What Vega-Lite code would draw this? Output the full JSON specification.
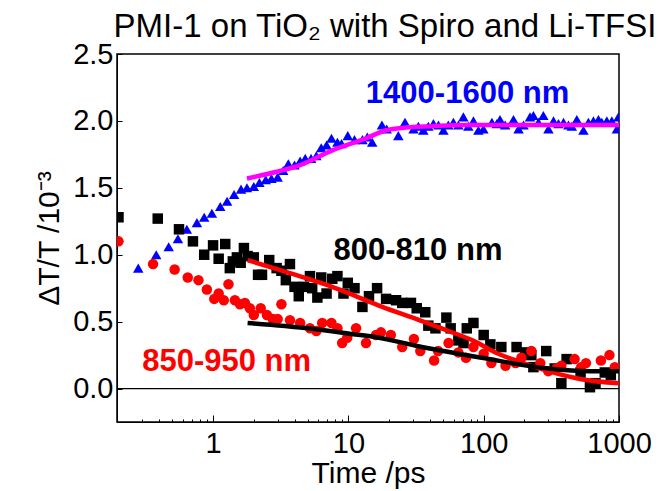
{
  "$schema": "https://vega.github.io/schema/vega-lite/v6.json",
  "autosize": {"type": "none"},
  "padding": {"left": 117, "top": 54, "right": 39, "bottom": 69},
  "width": 502,
  "height": 368,
  "background": "white",
  "config": {
    "view": {"stroke": "black", "strokeWidth": 1.5},
    "font": "Liberation Sans",
    "axis": {"grid": false, "domainColor": "black", "tickColor": "black", "labelColor": "black", "titleColor": "black", "labelFont": "Liberation Sans", "titleFont": "Liberation Sans", "titleFontWeight": "normal", "labelFontSize": 29, "titleFontSize": 30}
  },
  "title": {"text": "PMI-1 on TiO₂ with Spiro and Li-TFSI", "fontSize": 33, "fontWeight": "normal", "font": "Liberation Sans", "color": "black", "anchor": "middle", "dx": 17, "offset": -4},
  "datasets": {
    "pts": [
      {"t": 0.28, "v": 0.90, "series": "1400-1600 nm"},
      {"t": 0.38, "v": 1.00, "series": "1400-1600 nm"},
      {"t": 0.47, "v": 1.06, "series": "1400-1600 nm"},
      {"t": 0.55, "v": 1.12, "series": "1400-1600 nm"},
      {"t": 0.64, "v": 1.19, "series": "1400-1600 nm"},
      {"t": 0.76, "v": 1.24, "series": "1400-1600 nm"},
      {"t": 0.86, "v": 1.28, "series": "1400-1600 nm"},
      {"t": 0.98, "v": 1.31, "series": "1400-1600 nm"},
      {"t": 1.13, "v": 1.36, "series": "1400-1600 nm"},
      {"t": 1.27, "v": 1.40, "series": "1400-1600 nm"},
      {"t": 1.43, "v": 1.45, "series": "1400-1600 nm"},
      {"t": 1.61, "v": 1.49, "series": "1400-1600 nm"},
      {"t": 1.78, "v": 1.50, "series": "1400-1600 nm"},
      {"t": 2.0, "v": 1.51, "series": "1400-1600 nm"},
      {"t": 2.2, "v": 1.54, "series": "1400-1600 nm"},
      {"t": 2.45, "v": 1.56, "series": "1400-1600 nm"},
      {"t": 2.7, "v": 1.57, "series": "1400-1600 nm"},
      {"t": 3.0, "v": 1.58, "series": "1400-1600 nm"},
      {"t": 3.3, "v": 1.63, "series": "1400-1600 nm"},
      {"t": 3.6, "v": 1.68, "series": "1400-1600 nm"},
      {"t": 4.0, "v": 1.67, "series": "1400-1600 nm"},
      {"t": 4.4, "v": 1.70, "series": "1400-1600 nm"},
      {"t": 4.8, "v": 1.72, "series": "1400-1600 nm"},
      {"t": 5.3, "v": 1.72, "series": "1400-1600 nm"},
      {"t": 5.8, "v": 1.74, "series": "1400-1600 nm"},
      {"t": 6.3, "v": 1.80, "series": "1400-1600 nm"},
      {"t": 6.9, "v": 1.82, "series": "1400-1600 nm"},
      {"t": 7.5, "v": 1.87, "series": "1400-1600 nm"},
      {"t": 8.3, "v": 1.84, "series": "1400-1600 nm"},
      {"t": 8.9, "v": 1.83, "series": "1400-1600 nm"},
      {"t": 9.9, "v": 1.89, "series": "1400-1600 nm"},
      {"t": 11.1, "v": 1.86, "series": "1400-1600 nm"},
      {"t": 12.7, "v": 1.86, "series": "1400-1600 nm"},
      {"t": 13.8, "v": 1.88, "series": "1400-1600 nm"},
      {"t": 15.0, "v": 1.84, "series": "1400-1600 nm"},
      {"t": 17.7, "v": 1.97, "series": "1400-1600 nm"},
      {"t": 19.2, "v": 1.94, "series": "1400-1600 nm"},
      {"t": 23.4, "v": 1.89, "series": "1400-1600 nm"},
      {"t": 26.2, "v": 1.99, "series": "1400-1600 nm"},
      {"t": 30.3, "v": 1.94, "series": "1400-1600 nm"},
      {"t": 32.9, "v": 1.96, "series": "1400-1600 nm"},
      {"t": 35.8, "v": 1.93, "series": "1400-1600 nm"},
      {"t": 39, "v": 1.96, "series": "1400-1600 nm"},
      {"t": 42.5, "v": 1.98, "series": "1400-1600 nm"},
      {"t": 46.3, "v": 1.97, "series": "1400-1600 nm"},
      {"t": 50.4, "v": 1.93, "series": "1400-1600 nm"},
      {"t": 54.8, "v": 1.97, "series": "1400-1600 nm"},
      {"t": 59.7, "v": 1.99, "series": "1400-1600 nm"},
      {"t": 65, "v": 1.97, "series": "1400-1600 nm"},
      {"t": 70.8, "v": 2.03, "series": "1400-1600 nm"},
      {"t": 77, "v": 1.96, "series": "1400-1600 nm"},
      {"t": 84, "v": 2.00, "series": "1400-1600 nm"},
      {"t": 91.4, "v": 1.93, "series": "1400-1600 nm"},
      {"t": 99.5, "v": 1.94, "series": "1400-1600 nm"},
      {"t": 115, "v": 1.99, "series": "1400-1600 nm"},
      {"t": 125, "v": 1.98, "series": "1400-1600 nm"},
      {"t": 132, "v": 2.01, "series": "1400-1600 nm"},
      {"t": 144, "v": 1.97, "series": "1400-1600 nm"},
      {"t": 166, "v": 2.01, "series": "1400-1600 nm"},
      {"t": 181, "v": 1.94, "series": "1400-1600 nm"},
      {"t": 197, "v": 1.97, "series": "1400-1600 nm"},
      {"t": 220, "v": 2.03, "series": "1400-1600 nm"},
      {"t": 233, "v": 2.04, "series": "1400-1600 nm"},
      {"t": 254, "v": 1.99, "series": "1400-1600 nm"},
      {"t": 276, "v": 2.04, "series": "1400-1600 nm"},
      {"t": 301, "v": 1.94, "series": "1400-1600 nm"},
      {"t": 328, "v": 2.00, "series": "1400-1600 nm"},
      {"t": 357, "v": 1.98, "series": "1400-1600 nm"},
      {"t": 389, "v": 1.99, "series": "1400-1600 nm"},
      {"t": 423, "v": 1.97, "series": "1400-1600 nm"},
      {"t": 448, "v": 1.96, "series": "1400-1600 nm"},
      {"t": 488, "v": 2.01, "series": "1400-1600 nm"},
      {"t": 546, "v": 1.93, "series": "1400-1600 nm"},
      {"t": 594, "v": 1.99, "series": "1400-1600 nm"},
      {"t": 647, "v": 2.00, "series": "1400-1600 nm"},
      {"t": 705, "v": 2.01, "series": "1400-1600 nm"},
      {"t": 746, "v": 1.99, "series": "1400-1600 nm"},
      {"t": 813, "v": 2.00, "series": "1400-1600 nm"},
      {"t": 885, "v": 2.00, "series": "1400-1600 nm"},
      {"t": 964, "v": 1.94, "series": "1400-1600 nm"},
      {"t": 990, "v": 2.03, "series": "1400-1600 nm"},

      {"t": 0.2, "v": 1.28, "series": "800-810 nm"},
      {"t": 0.39, "v": 1.27, "series": "800-810 nm"},
      {"t": 0.56, "v": 1.19, "series": "800-810 nm"},
      {"t": 0.71, "v": 1.10, "series": "800-810 nm"},
      {"t": 0.86, "v": 1.00, "series": "800-810 nm"},
      {"t": 1.0, "v": 1.07, "series": "800-810 nm"},
      {"t": 1.1, "v": 0.97, "series": "800-810 nm"},
      {"t": 1.23, "v": 1.08, "series": "800-810 nm"},
      {"t": 1.33, "v": 0.90, "series": "800-810 nm"},
      {"t": 1.40, "v": 0.95, "series": "800-810 nm"},
      {"t": 1.5, "v": 0.98, "series": "800-810 nm"},
      {"t": 1.6, "v": 0.94, "series": "800-810 nm"},
      {"t": 1.69, "v": 1.05, "series": "800-810 nm"},
      {"t": 1.8, "v": 0.99, "series": "800-810 nm"},
      {"t": 2.0, "v": 0.98, "series": "800-810 nm"},
      {"t": 2.15, "v": 0.85, "series": "800-810 nm"},
      {"t": 2.3, "v": 0.85, "series": "800-810 nm"},
      {"t": 2.6, "v": 0.96, "series": "800-810 nm"},
      {"t": 2.95, "v": 0.90, "series": "800-810 nm"},
      {"t": 3.2, "v": 0.88, "series": "800-810 nm"},
      {"t": 3.45, "v": 0.81, "series": "800-810 nm"},
      {"t": 3.7, "v": 0.93, "series": "800-810 nm"},
      {"t": 4.0, "v": 0.76, "series": "800-810 nm"},
      {"t": 4.3, "v": 0.69, "series": "800-810 nm"},
      {"t": 4.7, "v": 0.76, "series": "800-810 nm"},
      {"t": 5.2, "v": 0.84, "series": "800-810 nm"},
      {"t": 5.4, "v": 0.75, "series": "800-810 nm"},
      {"t": 5.9, "v": 0.68, "series": "800-810 nm"},
      {"t": 6.3, "v": 0.83, "series": "800-810 nm"},
      {"t": 6.9, "v": 0.71, "series": "800-810 nm"},
      {"t": 7.6, "v": 0.82, "series": "800-810 nm"},
      {"t": 8.3, "v": 0.84, "series": "800-810 nm"},
      {"t": 9.2, "v": 0.71, "series": "800-810 nm"},
      {"t": 9.9, "v": 0.79, "series": "800-810 nm"},
      {"t": 11.1, "v": 0.75, "series": "800-810 nm"},
      {"t": 12.7, "v": 0.61, "series": "800-810 nm"},
      {"t": 14.2, "v": 0.69, "series": "800-810 nm"},
      {"t": 16.3, "v": 0.75, "series": "800-810 nm"},
      {"t": 19, "v": 0.67, "series": "800-810 nm"},
      {"t": 22.5, "v": 0.66, "series": "800-810 nm"},
      {"t": 25, "v": 0.64, "series": "800-810 nm"},
      {"t": 29, "v": 0.64, "series": "800-810 nm"},
      {"t": 32, "v": 0.60, "series": "800-810 nm"},
      {"t": 37, "v": 0.57, "series": "800-810 nm"},
      {"t": 39, "v": 0.47, "series": "800-810 nm"},
      {"t": 44, "v": 0.45, "series": "800-810 nm"},
      {"t": 53, "v": 0.53, "series": "800-810 nm"},
      {"t": 57, "v": 0.45, "series": "800-810 nm"},
      {"t": 65, "v": 0.36, "series": "800-810 nm"},
      {"t": 71, "v": 0.34, "series": "800-810 nm"},
      {"t": 75, "v": 0.45, "series": "800-810 nm"},
      {"t": 84, "v": 0.49, "series": "800-810 nm"},
      {"t": 100, "v": 0.40, "series": "800-810 nm"},
      {"t": 112, "v": 0.33, "series": "800-810 nm"},
      {"t": 135, "v": 0.31, "series": "800-810 nm"},
      {"t": 175, "v": 0.31, "series": "800-810 nm"},
      {"t": 203, "v": 0.27, "series": "800-810 nm"},
      {"t": 225, "v": 0.25, "series": "800-810 nm"},
      {"t": 233, "v": 0.16, "series": "800-810 nm"},
      {"t": 290, "v": 0.28, "series": "800-810 nm"},
      {"t": 335, "v": 0.15, "series": "800-810 nm"},
      {"t": 375, "v": 0.04, "series": "800-810 nm"},
      {"t": 410, "v": 0.22, "series": "800-810 nm"},
      {"t": 520, "v": 0.12, "series": "800-810 nm"},
      {"t": 610, "v": 0.01, "series": "800-810 nm"},
      {"t": 670, "v": 0.04, "series": "800-810 nm"},
      {"t": 785, "v": 0.12, "series": "800-810 nm"},
      {"t": 870, "v": 0.10, "series": "800-810 nm"},

      {"t": 0.2, "v": 1.10, "series": "850-950 nm"},
      {"t": 0.36, "v": 0.93, "series": "850-950 nm"},
      {"t": 0.52, "v": 0.89, "series": "850-950 nm"},
      {"t": 0.65, "v": 0.83, "series": "850-950 nm"},
      {"t": 0.78, "v": 0.81, "series": "850-950 nm"},
      {"t": 0.90, "v": 0.74, "series": "850-950 nm"},
      {"t": 1.02, "v": 0.67, "series": "850-950 nm"},
      {"t": 1.1, "v": 0.71, "series": "850-950 nm"},
      {"t": 1.2, "v": 0.66, "series": "850-950 nm"},
      {"t": 1.3, "v": 0.78, "series": "850-950 nm"},
      {"t": 1.45, "v": 0.66, "series": "850-950 nm"},
      {"t": 1.58, "v": 0.63, "series": "850-950 nm"},
      {"t": 1.72, "v": 0.64, "series": "850-950 nm"},
      {"t": 1.87, "v": 0.60, "series": "850-950 nm"},
      {"t": 2.0, "v": 0.55, "series": "850-950 nm"},
      {"t": 2.25, "v": 0.60, "series": "850-950 nm"},
      {"t": 2.5, "v": 0.55, "series": "850-950 nm"},
      {"t": 2.76, "v": 0.52, "series": "850-950 nm"},
      {"t": 3.0, "v": 0.52, "series": "850-950 nm"},
      {"t": 3.2, "v": 0.63, "series": "850-950 nm"},
      {"t": 3.7, "v": 0.51, "series": "850-950 nm"},
      {"t": 4.4, "v": 0.49, "series": "850-950 nm"},
      {"t": 5.2, "v": 0.45, "series": "850-950 nm"},
      {"t": 5.8, "v": 0.43, "series": "850-950 nm"},
      {"t": 6.4, "v": 0.49, "series": "850-950 nm"},
      {"t": 7.5, "v": 0.49, "series": "850-950 nm"},
      {"t": 8.3, "v": 0.45, "series": "850-950 nm"},
      {"t": 9.0, "v": 0.34, "series": "850-950 nm"},
      {"t": 9.8, "v": 0.38, "series": "850-950 nm"},
      {"t": 11.4, "v": 0.45, "series": "850-950 nm"},
      {"t": 13.5, "v": 0.34, "series": "850-950 nm"},
      {"t": 16, "v": 0.40, "series": "850-950 nm"},
      {"t": 17.4, "v": 0.42, "series": "850-950 nm"},
      {"t": 20.6, "v": 0.40, "series": "850-950 nm"},
      {"t": 25, "v": 0.31, "series": "850-950 nm"},
      {"t": 30.5, "v": 0.37, "series": "850-950 nm"},
      {"t": 34, "v": 0.28, "series": "850-950 nm"},
      {"t": 43, "v": 0.21, "series": "850-950 nm"},
      {"t": 46, "v": 0.28, "series": "850-950 nm"},
      {"t": 55, "v": 0.34, "series": "850-950 nm"},
      {"t": 65, "v": 0.27, "series": "850-950 nm"},
      {"t": 74, "v": 0.23, "series": "850-950 nm"},
      {"t": 84, "v": 0.31, "series": "850-950 nm"},
      {"t": 100, "v": 0.26, "series": "850-950 nm"},
      {"t": 114, "v": 0.19, "series": "850-950 nm"},
      {"t": 145, "v": 0.17, "series": "850-950 nm"},
      {"t": 172, "v": 0.19, "series": "850-950 nm"},
      {"t": 190, "v": 0.23, "series": "850-950 nm"},
      {"t": 225, "v": 0.28, "series": "850-950 nm"},
      {"t": 262, "v": 0.19, "series": "850-950 nm"},
      {"t": 300, "v": 0.13, "series": "850-950 nm"},
      {"t": 345, "v": 0.15, "series": "850-950 nm"},
      {"t": 375, "v": 0.17, "series": "850-950 nm"},
      {"t": 470, "v": 0.22, "series": "850-950 nm"},
      {"t": 525, "v": 0.16, "series": "850-950 nm"},
      {"t": 570, "v": 0.19, "series": "850-950 nm"},
      {"t": 735, "v": 0.21, "series": "850-950 nm"},
      {"t": 850, "v": 0.25, "series": "850-950 nm"},
      {"t": 930, "v": 0.16, "series": "850-950 nm"}
    ],
    "fits": [
      {"t": 1.78, "v": 1.57, "fit": "fit 1400-1600"},
      {"t": 2.95, "v": 1.62, "fit": "fit 1400-1600"},
      {"t": 4.4, "v": 1.67, "fit": "fit 1400-1600"},
      {"t": 7.6, "v": 1.78, "fit": "fit 1400-1600"},
      {"t": 13.5, "v": 1.87, "fit": "fit 1400-1600"},
      {"t": 19, "v": 1.93, "fit": "fit 1400-1600"},
      {"t": 26.6, "v": 1.95, "fit": "fit 1400-1600"},
      {"t": 41, "v": 1.96, "fit": "fit 1400-1600"},
      {"t": 74, "v": 1.97, "fit": "fit 1400-1600"},
      {"t": 200, "v": 1.97, "fit": "fit 1400-1600"},
      {"t": 1000, "v": 1.97, "fit": "fit 1400-1600"},

      {"t": 1.8, "v": 0.96, "fit": "fit 800-810"},
      {"t": 3.5, "v": 0.87, "fit": "fit 800-810"},
      {"t": 7.6, "v": 0.76, "fit": "fit 800-810"},
      {"t": 10.2, "v": 0.71, "fit": "fit 800-810"},
      {"t": 17.8, "v": 0.61, "fit": "fit 800-810"},
      {"t": 31.6, "v": 0.52, "fit": "fit 800-810"},
      {"t": 55, "v": 0.43, "fit": "fit 800-810"},
      {"t": 87, "v": 0.35, "fit": "fit 800-810"},
      {"t": 122, "v": 0.27, "fit": "fit 800-810"},
      {"t": 172, "v": 0.21, "fit": "fit 800-810"},
      {"t": 300, "v": 0.13, "fit": "fit 800-810"},
      {"t": 525, "v": 0.07, "fit": "fit 800-810"},
      {"t": 1000, "v": 0.04, "fit": "fit 800-810"},

      {"t": 1.8, "v": 0.49, "fit": "fit 850-950"},
      {"t": 5, "v": 0.45, "fit": "fit 850-950"},
      {"t": 10.2, "v": 0.41, "fit": "fit 850-950"},
      {"t": 16.8, "v": 0.38, "fit": "fit 850-950"},
      {"t": 31.6, "v": 0.32, "fit": "fit 850-950"},
      {"t": 97, "v": 0.23, "fit": "fit 850-950"},
      {"t": 300, "v": 0.15, "fit": "fit 850-950"},
      {"t": 600, "v": 0.13, "fit": "fit 850-950"},
      {"t": 1000, "v": 0.13, "fit": "fit 850-950"}
    ],
    "labels": [
      {"t": 76, "v": 2.20, "series": "1400-1600 nm"},
      {"t": 32.7, "v": 1.03, "series": "800-810 nm"},
      {"t": 1.26, "v": 0.195, "series": "850-950 nm"}
    ]
  },
  "layer": [
    {
      "data": {"values": [{"v": 0}]},
      "mark": {"type": "rule", "color": "black", "strokeWidth": 1.2},
      "encoding": {"y": {"field": "v", "type": "quantitative"}}
    },
    {
      "data": {"name": "pts"},
      "mark": {"type": "point", "filled": true, "opacity": 1, "size": 110, "clip": true},
      "encoding": {
        "x": {
          "field": "t", "type": "quantitative",
          "scale": {"type": "log", "domain": [0.195, 1000], "nice": false},
          "axis": {
            "title": "Time /ps",
            "values": [0.3, 0.4, 0.5, 0.6, 0.7, 0.8, 0.9, 1, 2, 3, 4, 5, 6, 7, 8, 9, 10, 20, 30, 40, 50, 60, 70, 80, 90, 100, 200, 300, 400, 500, 600, 700, 800, 900, 1000],
            "labelExpr": "indexof([1,10,100,1000], datum.value) >= 0 ? format(datum.value, 'd') : ''",
            "tickSize": {"condition": {"test": "indexof([1,10,100,1000], datum.value) >= 0", "value": -7}, "value": -3},
            "labelPadding": 14,
            "titlePadding": 0,
            "labelFlush": false
          }
        },
        "y": {
          "field": "v", "type": "quantitative",
          "scale": {"domain": [-0.25, 2.5], "nice": false, "zero": false},
          "axis": {
            "title": "ΔT/T /10⁻³",
            "values": [0, 0.25, 0.5, 0.75, 1, 1.25, 1.5, 1.75, 2, 2.25, 2.5],
            "labelExpr": "indexof([0,0.5,1,1.5,2,2.5], datum.value) >= 0 ? format(datum.value, '.1f') : ''",
            "tickSize": {"condition": {"test": "indexof([0,0.5,1,1.5,2,2.5], datum.value) >= 0", "value": -5}, "value": -3},
            "labelPadding": 9,
            "titlePadding": 8,
            "labelFlush": false
          }
        },
        "color": {"field": "series", "type": "nominal", "scale": {"domain": ["800-810 nm", "850-950 nm", "1400-1600 nm"], "range": ["#000000", "#ff0000", "#0000ff"]}, "legend": null},
        "shape": {"field": "series", "type": "nominal", "scale": {"domain": ["800-810 nm", "850-950 nm", "1400-1600 nm"], "range": ["square", "circle", "triangle-up"]}, "legend": null}
      }
    },
    {
      "data": {"name": "fits"},
      "mark": {"type": "line", "strokeWidth": 4.5, "interpolate": "monotone", "clip": true},
      "encoding": {
        "x": {"field": "t", "type": "quantitative"},
        "y": {"field": "v", "type": "quantitative"},
        "color": {"field": "fit", "type": "nominal", "scale": {"domain": ["fit 800-810", "fit 850-950", "fit 1400-1600"], "range": ["#ff0000", "#000000", "#ff00ff"]}, "legend": null}
      }
    },
    {
      "data": {"name": "labels"},
      "mark": {"type": "text", "fontSize": 31, "fontWeight": "bold", "font": "Liberation Sans", "align": "center", "baseline": "middle"},
      "encoding": {
        "x": {"field": "t", "type": "quantitative"},
        "y": {"field": "v", "type": "quantitative"},
        "text": {"field": "series"},
        "color": {"field": "series", "type": "nominal", "scale": {"domain": ["800-810 nm", "850-950 nm", "1400-1600 nm"], "range": ["#000000", "#ff0000", "#0000ff"]}, "legend": null}
      }
    }
  ],
  "resolve": {"scale": {"color": "independent", "shape": "independent"}}
}
